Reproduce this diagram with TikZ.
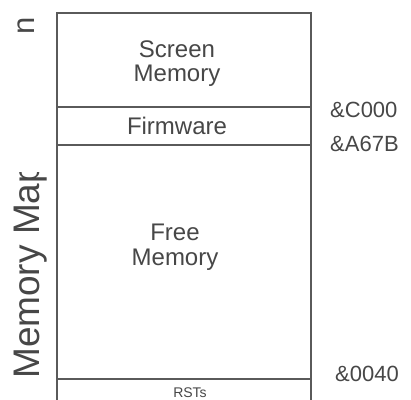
\documentclass[tikz,border=0pt]{standalone}
\usepackage{fontspec}
\setmainfont{Liberation Sans}
\definecolor{ink}{HTML}{474747}
\definecolor{rule}{HTML}{5A5A5A}
\begin{document}
\begin{tikzpicture}[x=1pt,y=-1pt,
  boxline/.style={draw=rule,line width=1.6pt},
  lbl/.style={text=ink,inner sep=0pt,font=\fontsize{24}{26}\selectfont},
  addr/.style={text=ink,inner sep=0pt,anchor=base west,font=\fontsize{22}{24}\selectfont},
  side/.style={text=ink,inner sep=0pt,rotate=90,anchor=base west}]
\useasboundingbox (0,0) rectangle (411,399);
\clip (0,0) rectangle (411,399);
\fill[white] (0,0) rectangle (411,399);
% memory column
\coordinate (tl) at (57,13);
\coordinate (tr) at (311,13);
\coordinate (bl) at (57,420);
\coordinate (br) at (311,420);
\draw[boxline] (bl) -- (tl) -- (tr) -- (br);
\coordinate (c0l) at (57,107);
\coordinate (c0r) at (311,107);
\coordinate (a6l) at (57,145);
\coordinate (a6r) at (311,145);
\coordinate (o4l) at (57,379);
\coordinate (o4r) at (311,379);
\draw[boxline] (c0l) -- (c0r);
\draw[boxline] (a6l) -- (a6r);
\draw[boxline] (o4l) -- (o4r);
% region labels
\node[lbl,anchor=base] (scr1) at (177,57) {Screen};
\node[lbl,anchor=base] (scr2) at (177,81) {Memory};
\node[lbl,anchor=base] (firm) at (177,134) {Firmware};
\node[lbl,anchor=base] (free1) at (175,240) {Free};
\node[lbl,anchor=base] (free2) at (175,265) {Memory};
\node[text=ink,inner sep=0pt,anchor=base,font=\fontsize{14}{16}\selectfont] (rst) at (190,397) {RSTs};
% addresses
\node[addr] (ac000) at (330,117) {\&C000};
\node[addr] (aa67b) at (330,151) {\&A67B};
\node[addr] (a0040) at (335,381) {\&0040};
% side title (its end is hidden in the original)
\begin{scope}
\clip (0,172) rectangle (56,399);
\node[side,font=\fontsize{37}{40}\selectfont] (title) at (39,379) {Memory Map};
\end{scope}
\node[side,font=\fontsize{31}{34}\selectfont] (tn) at (34,35) {n};
\end{tikzpicture}
\end{document}
